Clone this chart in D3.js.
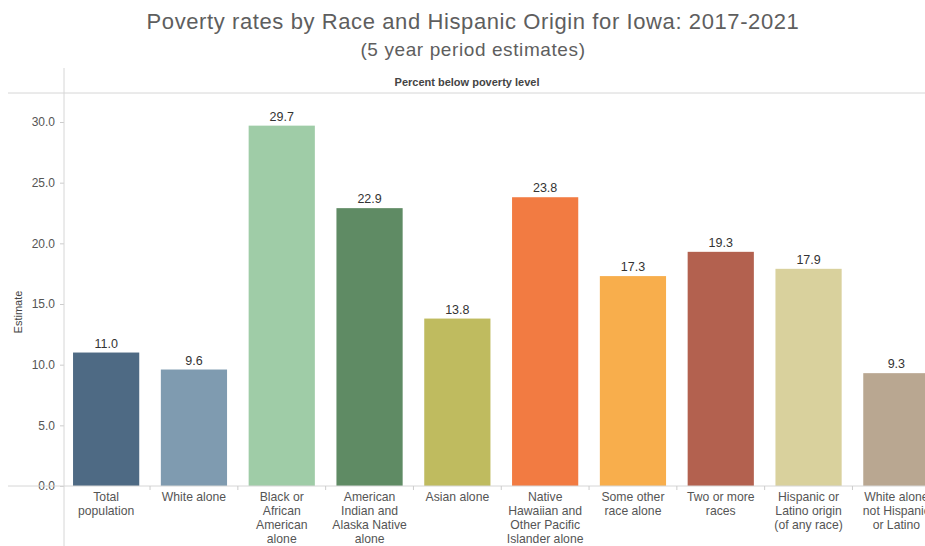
<!DOCTYPE html>
<html>
<head>
<meta charset="utf-8">
<script src="https://cdn.jsdelivr.net/npm/d3@7"></script>
<style>
  html, body { margin: 0; padding: 0; background: #fff; }
  svg { display: block; font-family: Arial, "Liberation Sans", sans-serif; }
</style>
</head>
<body>
<svg id="chart" width="925" height="546"></svg>
<script>
// Poverty rates (percent below poverty level), Iowa, 2017-2021 ACS 5-year
const categories = [
  "Total population",
  "White alone",
  "Black or African American alone",
  "American Indian and Alaska Native alone",
  "Asian alone",
  "Native Hawaiian and Other Pacific Islander alone",
  "Some other race alone",
  "Two or more races",
  "Hispanic or Latino origin (of any race)",
  "White alone not Hispanic or Latino"
];
const labelLines = [
  ["Total", "population"],
  ["White alone"],
  ["Black or", "African", "American", "alone"],
  ["American", "Indian and", "Alaska Native", "alone"],
  ["Asian alone"],
  ["Native", "Hawaiian and", "Other Pacific", "Islander alone"],
  ["Some other", "race alone"],
  ["Two or more", "races"],
  ["Hispanic or", "Latino origin", "(of any race)"],
  ["White alone", "not Hispanic", "or Latino"]
];
const estimates = [11.0, 9.6, 29.7, 22.9, 13.8, 23.8, 17.3, 19.3, 17.9, 9.3];
const barColors = [
  "#4e6a84", "#7f9bb0", "#9fcca7", "#5f8b64", "#bfbb5f",
  "#f27b42", "#f8ae4c", "#b3614f", "#d9d19d", "#b9a791"
];
const yTicks = [0, 5, 10, 15, 20, 25, 30];

const svg = d3.select("#chart");
const W = 925, H = 546;
const axisX = 64, zeroY = 486, headerY = 93;
const step = 87.45;

const x = d3.scaleBand()
  .domain(categories)
  .range([axisX, axisX + step * categories.length])
  .paddingInner(0.246)
  .paddingOuter(0.103);

const y = d3.scaleLinear().domain([0, 30]).range([zeroY, 122]);

// Titles
svg.append("text")
  .attr("x", 473).attr("y", 29)
  .attr("text-anchor", "middle")
  .attr("font-size", 22)
  .attr("fill", "#5e5e5e")
  .attr("letter-spacing", 0.6)
  .text("Poverty rates by Race and Hispanic Origin for Iowa: 2017-2021");
svg.append("text")
  .attr("x", 473).attr("y", 56)
  .attr("text-anchor", "middle")
  .attr("font-size", 19)
  .attr("fill", "#5e5e5e")
  .attr("letter-spacing", 0.6)
  .text("(5 year period estimates)");

// Header row
svg.append("text")
  .attr("x", 467).attr("y", 86)
  .attr("text-anchor", "middle")
  .attr("font-size", 11)
  .attr("font-weight", "bold")
  .attr("fill", "#444")
  .text("Percent below poverty level");

svg.append("line")
  .attr("x1", 8).attr("x2", W)
  .attr("y1", headerY).attr("y2", headerY)
  .attr("stroke", "#d6d6d6");

// Y axis
const yAxis = d3.axisLeft(y).tickValues(yTicks).tickFormat(d3.format(".1f")).tickSize(4).tickPadding(5);
const gy = svg.append("g").attr("transform", `translate(${axisX},0)`).call(yAxis);
gy.select(".domain").remove();
gy.selectAll(".tick line").attr("stroke", "#ccc");
gy.selectAll(".tick text").attr("font-size", 12).attr("fill", "#555").attr("font-family", "Arial, sans-serif");

svg.append("line")
  .attr("x1", axisX).attr("x2", axisX)
  .attr("y1", 68).attr("y2", H)
  .attr("stroke", "#d6d6d6");

svg.append("text")
  .attr("transform", `translate(22,${y(15) + 8}) rotate(-90)`)
  .attr("text-anchor", "middle")
  .attr("font-size", 11)
  .attr("fill", "#444")
  .text("Estimate");

// Bars
svg.append("g").selectAll("rect")
  .data(categories)
  .join("rect")
  .attr("x", d => x(d))
  .attr("width", x.bandwidth())
  .attr("y", (d, i) => y(estimates[i]))
  .attr("height", (d, i) => y(0) - y(estimates[i]))
  .attr("fill", (d, i) => barColors[i]);

// Value labels
svg.append("g").selectAll("text")
  .data(categories)
  .join("text")
  .attr("x", d => x(d) + x.bandwidth() / 2)
  .attr("y", (d, i) => y(estimates[i]) - 5)
  .attr("text-anchor", "middle")
  .attr("font-size", 12.5)
  .attr("fill", "#333")
  .text((d, i) => d3.format(".1f")(estimates[i]));

// Baseline
svg.append("line")
  .attr("x1", 8).attr("x2", W)
  .attr("y1", zeroY).attr("y2", zeroY)
  .attr("stroke", "#d6d6d6");

// Category dividers on the x axis
svg.append("g").selectAll("line")
  .data(categories.slice(1))
  .join("line")
  .attr("x1", d => x(d) - x.step() * x.paddingInner() / 2)
  .attr("x2", d => x(d) - x.step() * x.paddingInner() / 2)
  .attr("y1", zeroY).attr("y2", zeroY + 4)
  .attr("stroke", "#ccc");

// Category labels
const lab = svg.append("g").selectAll("text")
  .data(categories)
  .join("text")
  .attr("text-anchor", "middle")
  .attr("font-size", 12.2)
  .attr("fill", "#555")
  .attr("transform", d => `translate(${x(d) + x.bandwidth() / 2},${zeroY + 15})`);
lab.each(function(d, i) {
  d3.select(this).selectAll("tspan")
    .data(labelLines[i])
    .join("tspan")
    .attr("x", 0)
    .attr("dy", (t, j) => j === 0 ? 0 : 13.9)
    .text(t => t);
});
</script>
</body>
</html>
